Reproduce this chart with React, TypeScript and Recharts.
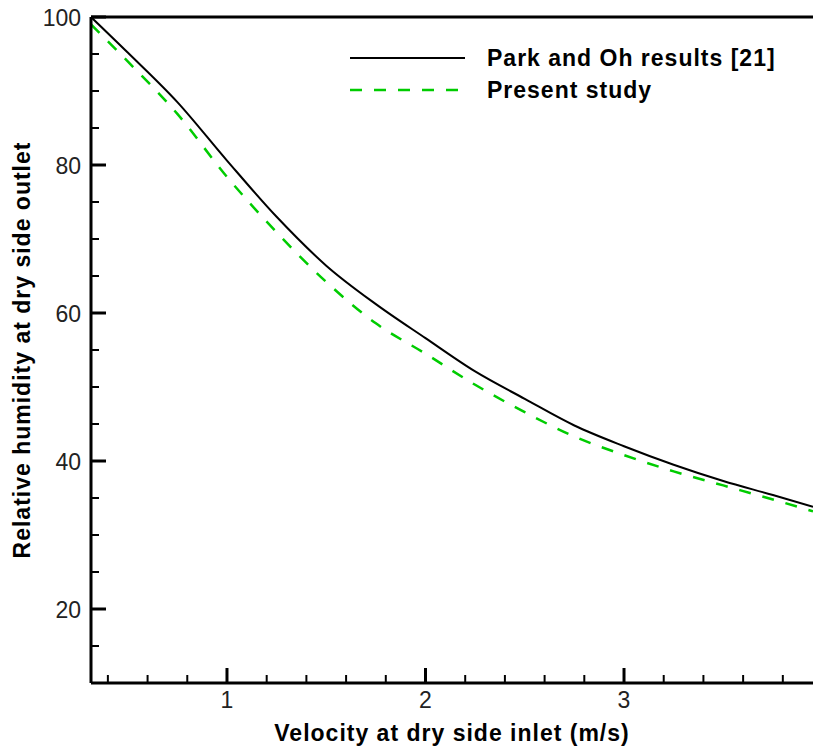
import { LineChart, Line, XAxis, YAxis, ReferenceLine, Legend } from "recharts";

// velocity at dry side inlet (m/s)
const velocity = [0.315, 0.5, 0.75, 1.0, 1.25, 1.5, 1.75, 2.0, 2.25, 2.5, 2.75, 3.0, 3.25, 3.5, 3.75, 3.952];
// relative humidity at dry side outlet
const parkOh = [100, 95.2, 88.5, 80.6, 73.0, 66.4, 61.2, 56.6, 52.1, 48.4, 44.8, 42.0, 39.5, 37.3, 35.4, 33.8];
const presentStudy = [99.0, 94.0, 86.9, 78.4, 70.9, 64.2, 58.6, 54.5, 50.3, 46.6, 43.3, 40.8, 38.6, 36.7, 34.8, 33.2];

const xTicks = [0.4, 0.6, 0.8, 1, 1.2, 1.4, 1.6, 1.8, 2, 2.2, 2.4, 2.6, 2.8, 3, 3.2, 3.4, 3.6, 3.8];
const yTicks = [15, 20, 25, 30, 35, 40, 45, 50, 55, 60, 65, 70, 75, 80, 85, 90, 95, 100];

const seriesNames = ["Park and Oh results [21]", "Present study"];

const GREEN = "#00cc00";
const FONT = "'Liberation Sans', Arial, sans-serif";

const data = velocity.map((v, i) => ({ v, park: parkOh[i], present: presentStudy[i] }));

function XTick({ x, y, payload }: any) {
  const major = Math.abs(payload.value - Math.round(payload.value)) < 1e-6;
  return (
    <g>
      <line x1={x} x2={x} y1={y} y2={y - (major ? 15 : 8)} stroke="#000" strokeWidth={major ? 3 : 2} />
      {major && (
        <text x={x} y={y + 25} textAnchor="middle" fontFamily={FONT} fontSize={23} fill="#222">
          {payload.value}
        </text>
      )}
    </g>
  );
}

function YTick({ x, y, payload }: any) {
  const major = payload.value % 20 === 0;
  return (
    <g>
      <line x1={x} x2={x + (major ? 15 : 8)} y1={y} y2={y} stroke="#000" strokeWidth={major ? 3 : 2} />
      {major && (
        <text x={x - 10} y={y + 9} textAnchor="end" fontFamily={FONT} fontSize={23} fill="#222">
          {payload.value}
        </text>
      )}
    </g>
  );
}

function LegendBox() {
  return (
    <svg width={450} height={62}>
      <line x1={0} x2={115} y1={14} y2={14} stroke="#000" strokeWidth={2} />
      <text x={137} y={22} fontFamily={FONT} fontSize={23} fontWeight="bold" letterSpacing={1} fill="#000">
        {seriesNames[0]}
      </text>
      <line x1={0} x2={115} y1={46} y2={46} stroke={GREEN} strokeWidth={2.5} strokeDasharray="12 12" />
      <text x={137} y={54} fontFamily={FONT} fontSize={23} fontWeight="bold" letterSpacing={1} fill="#000">
        {seriesNames[1]}
      </text>
    </svg>
  );
}

export default function App() {
  return (
    <div style={{ position: "absolute", left: 0, top: 0, width: 813, height: 749, overflow: "hidden", background: "#fff" }}>
      <LineChart width={813} height={749} data={data} margin={{ top: 17, right: 0, bottom: 0, left: 0 }}>
        <XAxis
          dataKey="v"
          type="number"
          domain={[0.315, 3.952]}
          ticks={xTicks}
          allowDataOverflow
          height={66}
          tickSize={0}
          tickMargin={0}
          tickLine={false}
          axisLine={{ stroke: "#000", strokeWidth: 3 }}
          tick={<XTick />}
          interval={0}
          label={{
            value: "Velocity at dry side inlet (m/s)",
            position: "insideBottom",
            offset: 8,
            style: { fontFamily: FONT, fontSize: 23, fontWeight: "bold", letterSpacing: 1, fill: "#000" },
          }}
        />
        <YAxis
          type="number"
          domain={[10, 100]}
          ticks={yTicks}
          allowDataOverflow
          width={91}
          tickSize={0}
          tickMargin={0}
          tickLine={false}
          axisLine={{ stroke: "#000", strokeWidth: 3 }}
          tick={<YTick />}
          interval={0}
          label={{
            value: "Relative humidity at dry side outlet",
            angle: -90,
            position: "insideLeft",
            offset: 22,
            style: { textAnchor: "middle", fontFamily: FONT, fontSize: 23, fontWeight: "bold", letterSpacing: 1, fill: "#000" },
          }}
        />
        <ReferenceLine y={100} stroke="#000" strokeWidth={3} />
        <Legend
          layout="vertical"
          align="center"
          verticalAlign="middle"
          wrapperStyle={{ left: 350, top: 44, width: 450 }}
          content={() => <LegendBox />}
        />
        <Line
          dataKey="park"
          name={seriesNames[0]}
          type="monotone"
          stroke="#000"
          strokeWidth={2}
          dot={false}
          isAnimationActive={false}
        />
        <Line
          dataKey="present"
          name={seriesNames[1]}
          type="monotone"
          stroke={GREEN}
          strokeWidth={2.5}
          strokeDasharray="12 12"
          dot={false}
          isAnimationActive={false}
        />
      </LineChart>
    </div>
  );
}
